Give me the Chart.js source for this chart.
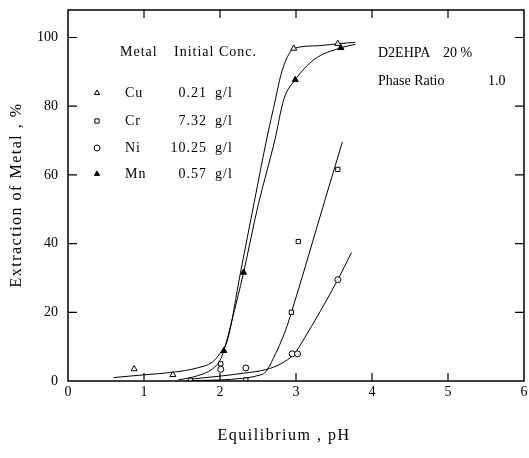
<!DOCTYPE html>
<html>
<head>
<meta charset="utf-8">
<script src="https://cdn.jsdelivr.net/npm/chart.js@4.4.1/dist/chart.umd.min.js"></script>
<style>
html, body { margin: 0; padding: 0; background: #fff; }
canvas { display: block; }
</style>
</head>
<body>
<canvas id="myChart" width="529" height="458"></canvas>
<script>
const xTicks = [0, 1, 2, 3, 4, 5, 6];
const yTicks = [0, 20, 40, 60, 80, 100];

// measured points (pH, extraction %)
const cuPH  = [0.87, 1.38, 2.97, 3.55];
const cuExt = [3.5, 1.8, 96.8, 98.2];
const crPH  = [1.61, 2.01, 2.34, 2.94, 3.03, 3.55];
const crExt = [0.2, 5.0, 0.3, 20.0, 40.6, 61.6];
const niPH  = [2.01, 2.34, 2.95, 3.02, 3.55];
const niExt = [3.4, 3.8, 7.9, 7.9, 29.5];
const mnPH  = [2.05, 2.31, 2.99, 3.59];
const mnExt = [8.8, 31.6, 87.7, 97.0];

// fitted curves
const cuCurvePH  = [0.6, 1.0, 1.4, 1.7, 1.9, 2.0, 2.1, 2.27, 2.45, 2.62, 2.73, 2.8, 2.88, 2.97, 3.3, 3.55, 3.78];
const cuCurveExt = [1.0, 1.8, 2.6, 3.8, 5.5, 8.0, 12, 31.6, 52, 71, 82, 89, 94, 96.8, 97.6, 98.2, 98.6];
const mnCurvePH  = [1.45, 1.7, 1.9, 2.0, 2.05, 2.15, 2.31, 2.5, 2.72, 2.84, 2.99, 3.24, 3.59, 3.78];
const mnCurveExt = [0.3, 1.5, 3.5, 6.0, 8.8, 17, 31.6, 51, 70, 82, 87.7, 93.6, 97.0, 98.0];
const crCurvePH  = [1.55, 2.0, 2.3, 2.5, 2.6, 2.7, 2.86, 2.94, 3.38, 3.61];
const crCurveExt = [0.1, 0.3, 0.8, 1.6, 2.6, 6.5, 14.6, 20, 52.6, 69.6];
const niCurvePH  = [1.6, 2.03, 2.32, 2.6, 2.8, 2.98, 3.09, 3.55, 3.73];
const niCurveExt = [0.5, 1.5, 2.3, 3.3, 5.0, 8.0, 11.7, 29.5, 37.4];

const metals = ['Cu', 'Cr', 'Ni', 'Mn'];
const concs = ['0.21', '7.32', '10.25', '0.57'];

function pts(xs, ys) {
    return xs.map((x, i) => ({x: x, y: ys[i]}));
}

function markerSet(data, style, fill, r) {
    return {
        data: data,
        showLine: false,
        pointStyle: style,
        pointRadius: r,
        pointBorderWidth: 1,
        borderColor: '#000',
        backgroundColor: fill,
        pointBackgroundColor: fill,
    };
}

function curveSet(data) {
    return {
        data: data,
        showLine: true,
        pointRadius: 0,
        borderColor: '#000',
        borderWidth: 1,
        cubicInterpolationMode: 'monotone',
        fill: false,
    };
}

const serif = '"Liberation Serif", serif';

// frame, inward ticks, axis titles and the text blocks
const decor = {
    id: 'decor',
    afterDraw(chart) {
        const c = chart.ctx;
        const a = chart.chartArea;
        const xs = chart.scales.x, ys = chart.scales.y;
        c.save();
        c.strokeStyle = '#000';
        c.lineWidth = 1.5;
        c.strokeRect(a.left, a.top, a.right - a.left, a.bottom - a.top);
        c.lineWidth = 1.2;
        c.beginPath();
        xTicks.slice(1, -1).forEach(v => {
            const px = xs.getPixelForValue(v);
            c.moveTo(px, a.bottom); c.lineTo(px, a.bottom - 8);
            c.moveTo(px, a.top); c.lineTo(px, a.top + 8);
        });
        yTicks.slice(1).forEach(v => {
            const py = ys.getPixelForValue(v);
            c.moveTo(a.left, py); c.lineTo(a.left + 9, py);
            c.moveTo(a.right, py); c.lineTo(a.right - 9, py);
        });
        c.stroke();

        c.fillStyle = '#000';
        c.textBaseline = 'middle';

        // axis titles
        c.font = '16px ' + serif;
        c.letterSpacing = '1.5px';
        c.textAlign = 'center';
        c.fillText('Equilibrium , pH', 284, 436);
        c.save();
        c.translate(17, 195);
        c.rotate(-Math.PI / 2);
        c.fillText('Extraction of Metal , %', 0, 0);
        c.restore();

        c.font = '14px ' + serif;
        c.letterSpacing = '0px';
        c.textAlign = 'left';
        c.fillText('D2EHPA', 378, 53);
        c.fillText('20 %', 443, 53);
        c.fillText('Phase Ratio', 378, 81);
        c.fillText('1.0', 488, 81);

        c.letterSpacing = '1px';
        c.fillText('Metal', 120, 52);
        c.fillText('Initial Conc.', 174, 52);

        const rows = [93, 121, 148, 174];
        const styles = ['triangle', 'rect', 'circle', 'triangle'];
        const fills = ['#fff', '#fff', '#fff', '#000'];
        rows.forEach((ry, i) => {
            c.textAlign = 'left';
            c.fillText(metals[i], 125, ry);
            c.textAlign = 'right';
            c.fillText(concs[i], 207, ry);
            c.textAlign = 'left';
            c.fillText('g/l', 215, ry);
            c.fillStyle = fills[i];
            c.lineWidth = 1;
            Chart.helpers.drawPoint(c, {pointStyle: styles[i], radius: 3, borderWidth: 1}, 97, ry);
            c.fillStyle = '#000';
        });
        c.restore();
    }
};

const ctx = document.getElementById('myChart').getContext('2d');

const myChart = new Chart(ctx, {
    type: 'scatter',
    data: {
        datasets: [
            markerSet(pts(cuPH, cuExt), 'triangle', '#fff', 3.5),
            markerSet(pts(crPH, crExt), 'rect', '#fff', 3),
            markerSet(pts(niPH, niExt), 'circle', '#fff', 3),
            markerSet(pts(mnPH, mnExt), 'triangle', '#000', 3.5),
            curveSet(pts(cuCurvePH, cuCurveExt)),
            curveSet(pts(mnCurvePH, mnCurveExt)),
            curveSet(pts(crCurvePH, crCurveExt)),
            curveSet(pts(niCurvePH, niCurveExt)),
        ],
    },
    options: {
        responsive: false,
        animation: false,
        layout: { padding: { top: 10, right: 1, left: 0, bottom: 0 } },
        plugins: {
            legend: { display: false },
            tooltip: { enabled: false },
        },
        scales: {
            x: {
                type: 'linear',
                min: 0,
                max: 6,
                afterBuildTicks: s => { s.ticks = xTicks.map(v => ({value: v})); },
                afterFit: s => { s.height = 77; s.paddingLeft = 0; s.paddingRight = 0; },
                grid: { display: false, drawTicks: false },
                border: { display: false },
                ticks: { color: '#000', padding: 3, font: { family: serif, size: 14 } },
                title: { display: false },
            },
            y: {
                type: 'linear',
                min: 0,
                max: 108,
                afterBuildTicks: s => { s.ticks = yTicks.map(v => ({value: v})); },
                afterFit: s => { s.width = 68; s.paddingTop = 0; s.paddingBottom = 0; },
                grid: { display: false, drawTicks: false },
                border: { display: false },
                ticks: { color: '#000', padding: 10, font: { family: serif, size: 14 } },
                title: { display: false },
            },
        },
    },
    plugins: [decor],
});
</script>
</body>
</html>
